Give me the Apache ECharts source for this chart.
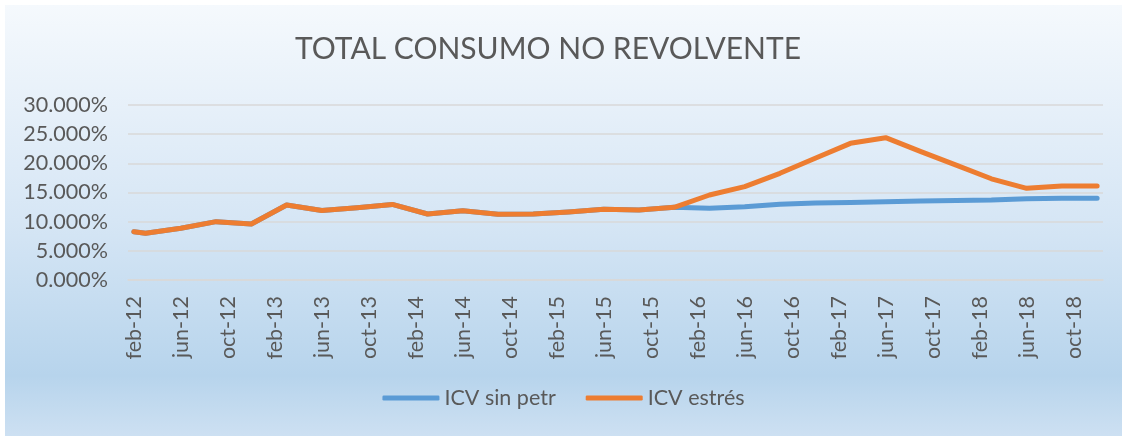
<!DOCTYPE html>
<html>
<head>
<meta charset="utf-8">
<script src="https://cdn.jsdelivr.net/npm/echarts@6/dist/echarts.min.js"></script>
<style>
  html, body { margin: 0; padding: 0; background: #fff; }
  #chart { position: absolute; left: 5px; top: 5px; width: 1117px; height: 431px; }
</style>
</head>
<body>
<div id="chart"></div>
<script>
// meses del eje (feb-12 .. dic-18), etiqueta cada 4 meses
const meses = ['ene', 'feb', 'mar', 'abr', 'may', 'jun', 'jul', 'ago', 'sep', 'oct', 'nov', 'dic'];
const categorias = [];
for (let y = 12; y <= 18; y++) {
  for (let m = 0; m < 12; m++) {
    if (y === 12 && m === 0) continue;
    categorias.push(meses[m] + '-' + y);
  }
}

// fechas con dato (trimestral)
const fechas = [
  'feb-12', 'mar-12', 'jun-12', 'sep-12', 'dic-12',
  'mar-13', 'jun-13', 'sep-13', 'dic-13',
  'mar-14', 'jun-14', 'sep-14', 'dic-14',
  'mar-15', 'jun-15', 'sep-15', 'dic-15',
  'mar-16', 'jun-16', 'sep-16', 'dic-16',
  'mar-17', 'jun-17', 'sep-17', 'dic-17',
  'mar-18', 'jun-18', 'sep-18', 'dic-18'
];

const icvSinPetr = [
  8.28, 8.0, 8.86, 10.0, 9.6,
  12.86, 11.9, 12.4, 12.95,
  11.31, 11.88, 11.26, 11.31,
  11.66, 12.11, 12.0, 12.46,
  12.29, 12.57, 13.0, 13.2,
  13.3, 13.43, 13.54, 13.62,
  13.71, 13.94, 14.0, 14.0
];

const icvEstres = [
  8.28, 8.0, 8.86, 10.0, 9.6,
  12.86, 11.9, 12.4, 12.95,
  11.31, 11.88, 11.26, 11.31,
  11.66, 12.11, 12.0, 12.46,
  14.57, 16.0, 18.29, 20.86,
  23.43, 24.4, 22.0, 19.7,
  17.35, 15.71, 16.11, 16.11
];

const chart = echarts.init(document.getElementById('chart'));
const gris = '#595959';
const fuente = 'Lato';

const option = {
  backgroundColor: new echarts.graphic.LinearGradient(0, 0, 0, 1, [
    { offset: 0, color: '#f5f9fd' },
    { offset: 0.5, color: '#d6e6f5' },
    { offset: 0.86, color: '#b7d4ec' },
    { offset: 1, color: '#cde0f2' }
  ]),
  animation: false,
  title: {
    text: 'TOTAL CONSUMO NO REVOLVENTE',
    left: 543,
    textAlign: 'center',
    top: 29,
    padding: 0,
    textStyle: { color: gris, fontFamily: fuente, fontSize: 30, fontWeight: 'normal' }
  },
  legend: {
    bottom: 22,
    left: 'center',
    icon: 'roundRect',
    itemWidth: 57,
    itemHeight: 5,
    itemGap: 30,
    textStyle: { color: gris, fontFamily: fuente, fontSize: 21.5 },
    data: ['ICV sin petr', 'ICV estrés']
  },
  grid: { left: 123, right: 19, top: 100, bottom: 156 },
  xAxis: {
    type: 'category',
    data: categorias,
    boundaryGap: true,
    axisLine: { lineStyle: { color: '#d9d9d9', width: 1.5 } },
    axisTick: { interval: 3, length: 6, lineStyle: { color: '#d9d9d9', width: 1.5 } },
    axisLabel: {
      interval: 3,
      rotate: 90,
      margin: 16,
      color: gris,
      fontFamily: fuente,
      fontSize: 21.5
    }
  },
  yAxis: {
    type: 'value',
    min: 0,
    max: 30,
    interval: 5,
    axisLine: { show: false },
    axisTick: { show: false },
    splitLine: { lineStyle: { color: '#d9d9d9', width: 1.5 } },
    axisLabel: {
      margin: 20,
      color: gris,
      fontFamily: fuente,
      fontSize: 21.5,
      formatter: v => v.toFixed(3) + '%'
    }
  },
  series: [
    {
      name: 'ICV sin petr',
      type: 'line',
      showSymbol: false,
      symbol: 'none',
      data: fechas.map((f, i) => [f, icvSinPetr[i]]),
      itemStyle: { color: '#5b9bd5' },
      lineStyle: { color: '#5b9bd5', width: 5, cap: 'round', join: 'round' }
    },
    {
      name: 'ICV estrés',
      type: 'line',
      showSymbol: false,
      symbol: 'none',
      data: fechas.map((f, i) => [f, icvEstres[i]]),
      itemStyle: { color: '#ed7d31' },
      lineStyle: { color: '#ed7d31', width: 5, cap: 'round', join: 'round' }
    }
  ]
};

chart.setOption(option);
</script>
</body>
</html>
